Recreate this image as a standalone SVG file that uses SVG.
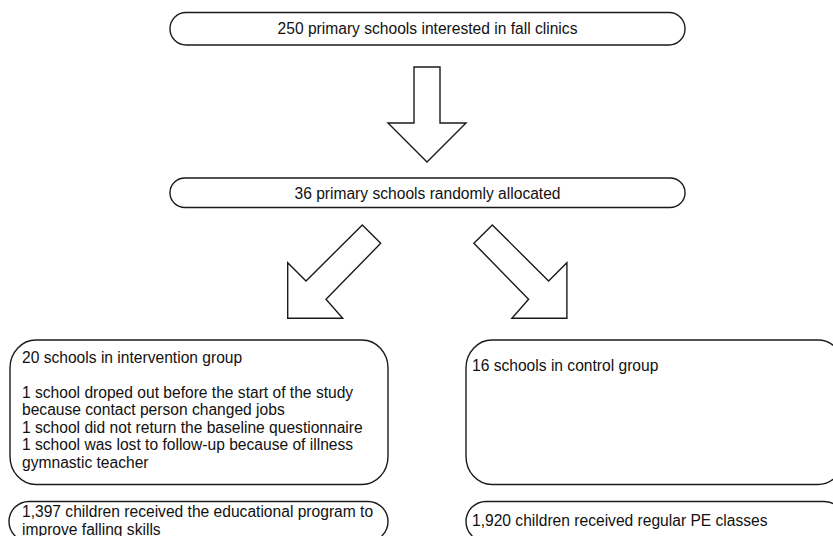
<svg xmlns="http://www.w3.org/2000/svg" width="833" height="536" viewBox="0 0 833 536">
<style>
.box{fill:#fff;stroke:#1a1a1a;stroke-width:1.4}
.arr{fill:#fff;stroke:#1a1a1a;stroke-width:1.4;stroke-linejoin:miter}
text{font-family:"Liberation Sans",Arial,Helvetica,sans-serif;font-size:15.6px;fill:#111}
.c{text-anchor:middle}
</style>
<rect width="833" height="536" fill="#fff"/>
<g id="connectors">
<polygon class="arr" points="414,67 440,67 440,123 466,123 427,162 388,123 414,123"/>
<polygon class="arr" points="362.3,225 380.7,243.3 326,299.3 342.7,318.3 287.7,318.3 287.7,262.7 306,281"/>
<polygon class="arr" points="492.3,225 473.9,243.3 528.6,299.3 511.9,318.3 566.9,318.3 566.9,262.7 548.6,281"/>
</g>
<g id="node-top">
<rect class="box" x="170" y="12.5" width="515" height="32.5" rx="16" ry="16"/>
<text class="c" x="427.5" y="34">250 primary schools interested in fall clinics</text>
</g>
<g id="node-random">
<rect class="box" x="170" y="178" width="515" height="29.5" rx="15" ry="14.5"/>
<text class="c" x="427.5" y="198.5">36 primary schools randomly allocated</text>
</g>
<g id="node-intervention">
<rect class="box" x="10" y="340" width="378" height="144.5" rx="26" ry="28"/>
<text x="22" y="362.5">20 schools in intervention group</text>
<text x="22" y="397.5">1 school droped out before the start of the study</text>
<text x="22" y="415">because contact person changed jobs</text>
<text x="22" y="432.5">1 school did not return the baseline questionnaire</text>
<text x="22" y="450">1 school was lost to follow-up because of illness</text>
<text x="22" y="467.5">gymnastic teacher</text>
</g>
<g id="node-intervention-children">
<rect class="box" x="9" y="501.5" width="379" height="40" rx="20" ry="20"/>
<text x="22" y="517">1,397 children received the educational program to</text>
<text x="22" y="534.5">improve falling skills</text>
</g>
<g id="node-control">
<rect class="box" x="466" y="340" width="378" height="144.5" rx="26" ry="28"/>
<text x="472" y="370.5">16 schools in control group</text>
</g>
<g id="node-control-children">
<rect class="box" x="466" y="501.5" width="378" height="40" rx="20" ry="20"/>
<text x="472" y="526">1,920 children received regular PE classes</text>
</g>
</svg>
